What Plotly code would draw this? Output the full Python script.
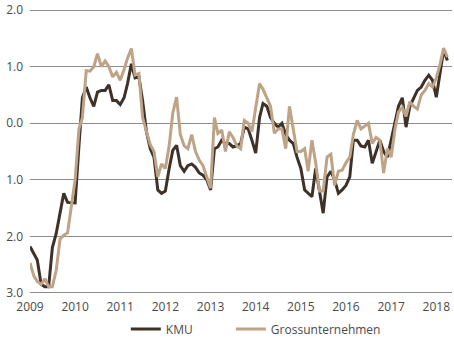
import plotly.graph_objects as go
import pandas as pd

months = pd.date_range("2009-01-01", periods=112, freq="MS")

kmu = [-2.18, -2.3, -2.42, -2.85, -2.89, -2.89, -2.2, -1.95, -1.6, -1.24,
       -1.4, -1.41, -1.41, -0.4, 0.45, 0.64, 0.45, 0.3, 0.55, 0.58,
       0.58, 0.68, 0.4, 0.4, 0.33, 0.45, 0.7, 1.05, 0.8, 0.82,
       0.4, -0.15, -0.45, -0.6, -1.18, -1.24, -1.2, -0.8, -0.48, -0.39,
       -0.75, -0.85, -0.75, -0.72, -0.78, -0.88, -0.92, -1.0, -1.18, -0.45,
       -0.42, -0.3, -0.36, -0.36, -0.42, -0.4, -0.36, -0.07, -0.1, -0.3,
       -0.53, 0.1, 0.35, 0.3, 0.1, 0.0, -0.07, 0.0, -0.2, -0.3,
       -0.36, -0.6, -0.8, -1.18, -1.24, -1.3, -0.8, -1.18, -1.59, -0.95,
       -0.85, -1.0, -1.24, -1.18, -1.1, -0.95, -0.3, -0.3, -0.4, -0.42,
       -0.3, -0.71, -0.5, -0.3, -0.5, -0.6, -0.3, 0.0, 0.3, 0.45,
       -0.07, 0.3, 0.45, 0.58, 0.64, 0.76, 0.85, 0.76, 0.46, 0.9,
       1.29, 1.11]

gross = [-2.47, -2.7, -2.8, -2.85, -2.75, -2.89, -2.89, -2.6, -2.05, -1.98,
         -1.94, -1.5, -1.0, -0.1, 0.1, 0.93, 0.92, 1.0, 1.23, 1.0,
         1.1, 1.0, 0.82, 0.9, 0.76, 0.95, 1.15, 1.32, 0.85, 0.88,
         0.1, -0.15, -0.38, -0.5, -0.95, -0.72, -0.8, -0.4, 0.18, 0.46,
         -0.2, -0.4, -0.45, -0.2, -0.5, -0.65, -0.75, -0.95, -1.15, 0.1,
         -0.18, -0.12, -0.5, -0.15, -0.25, -0.4, -0.45, 0.05, 0.0, -0.15,
         0.3, 0.7, 0.6, 0.45, 0.3, -0.18, -0.1, -0.1, -0.45, 0.3,
         -0.1, -0.5, -0.5, -0.45, -0.85, -0.3, -0.7, -1.2, -1.2, -0.6,
         -0.55, -1.1, -0.85, -0.83, -0.7, -0.6, -0.2, 0.05, -0.1, -0.05,
         0.0, -0.36, -0.25, -0.3, -0.88, -0.45, -0.6, -0.1, 0.2, 0.28,
         0.12, 0.38, 0.3, 0.25, 0.5, 0.58, 0.7, 0.64, 0.8, 1.05,
         1.33, 1.17]

y_tickvals = [2, 1, 0, -1, -2, -3]
y_ticktext = ["2.0", "1.0", "0.0", "1.0", "2.0", "3.0"]
x_tickvals = [f"{y}-01-01" for y in range(2009, 2019)]
x_ticktext = [str(y) for y in range(2009, 2019)]

fig = go.Figure()
fig.add_trace(go.Scatter(x=months, y=kmu, mode="lines", name="KMU",
                         line=dict(color="#3d3128", width=3), legend="legend"))
fig.add_trace(go.Scatter(x=months, y=gross, mode="lines", name="Grossunternehmen",
                         line=dict(color="#bea387", width=3), legend="legend2"))

leg_common = dict(orientation="h", xanchor="left", y=-0.123, yanchor="middle",
                  itemwidth=30, font=dict(size=12, color="#4a4a4a"),
                  bgcolor="rgba(0,0,0,0)")

fig.update_layout(
    width=454, height=346,
    margin=dict(l=30, r=2, t=9, b=52),
    paper_bgcolor="white", plot_bgcolor="white",
    font=dict(family="Open Sans", size=12, color="#4a4a4a"),
    showlegend=True,
    legend=dict(x=0.227, **leg_common),
    legend2=dict(x=0.476, **leg_common),
)
fig.update_xaxes(range=["2009-01-01", "2018-05-08"], tickvals=x_tickvals,
                 ticktext=x_ticktext, showgrid=False, zeroline=False,
                 showline=False, ticks="", ticklabelstandoff=4)
fig.update_yaxes(range=[-3.02, 2.02], tickvals=y_tickvals, ticktext=y_ticktext,
                 showgrid=True, gridcolor="#8c8c8c", gridwidth=1,
                 zeroline=False, showline=False, ticks="", ticklabelstandoff=6)

fig.write_html("out.html")
